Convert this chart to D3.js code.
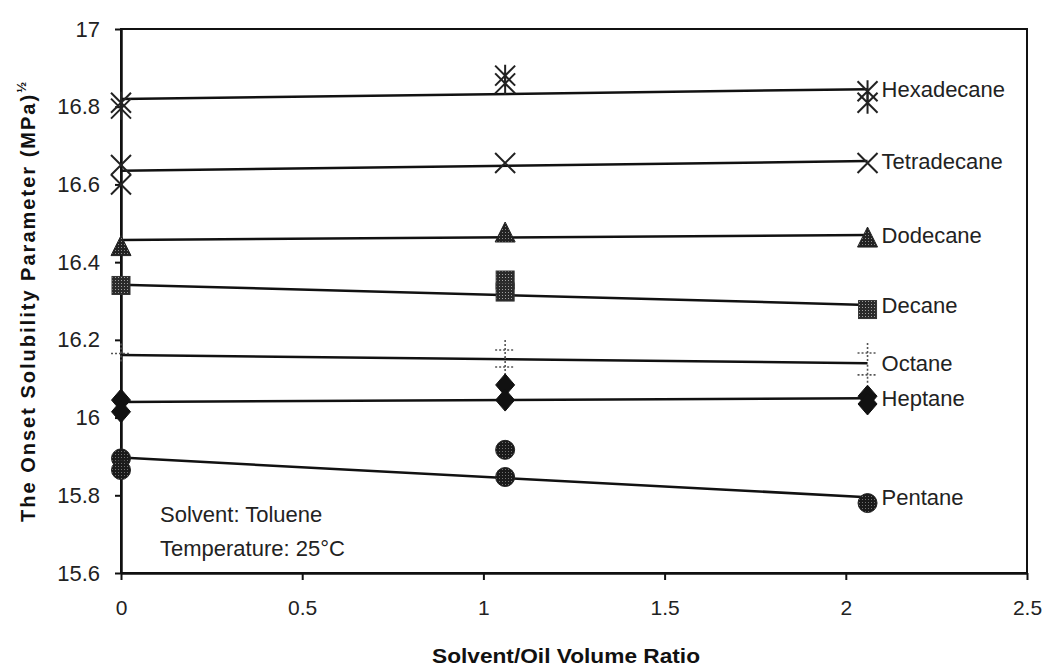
<!DOCTYPE html>
<html>
<head>
<meta charset="utf-8">
<script src="https://cdn.jsdelivr.net/npm/d3@7/dist/d3.min.js"></script>
<style>
  html, body { margin: 0; padding: 0; background: #fff; }
  svg { display: block; font-family: "Liberation Sans", Arial, sans-serif; }
</style>
</head>
<body>
<svg id="chart" width="1045" height="672"></svg>
<script>
// ---------------- data ----------------
const seriesNames = ["Hexadecane", "Tetradecane", "Dodecane", "Decane", "Octane", "Heptane", "Pentane"];
const markerTypes = ["star", "x", "triangle", "square", "plus", "diamond", "circle"];

// observed points [solvent/oil ratio, onset solubility parameter]
const hexadecanePts  = [[0, 16.81], [0, 16.795], [1.06, 16.88], [1.06, 16.86], [2.06, 16.84], [2.06, 16.81]];
const tetradecanePts = [[0, 16.65], [0, 16.60], [1.06, 16.655], [2.06, 16.655]];
const dodecanePts    = [[0, 16.44], [1.06, 16.475], [2.06, 16.462]];
const decanePts      = [[0, 16.34], [1.06, 16.354], [1.06, 16.323], [2.06, 16.278]];
const octanePts      = [[0, 16.165], [1.06, 16.174], [1.06, 16.13], [2.06, 16.166], [2.06, 16.11]];
const heptanePts     = [[0, 16.045], [0, 16.015], [1.06, 16.084], [1.06, 16.045], [2.06, 16.055], [2.06, 16.035]];
const pentanePts     = [[0, 15.895], [0, 15.865], [1.06, 15.917], [1.06, 15.847], [2.06, 15.78]];

// linear trend lines: value at start and end ratio
const trendX     = [0, 2.06];
const trendStart = [16.82, 16.635, 16.457, 16.342, 16.161, 16.04, 15.897];
const trendEnd   = [16.845, 16.66, 16.47, 16.29, 16.14, 16.05, 15.795];

const xTickValues = [0, 0.5, 1, 1.5, 2, 2.5];
const xTickLabels = ["0", "0.5", "1", "1.5", "2", "2.5"];
const yTickValues = [15.6, 15.8, 16, 16.2, 16.4, 16.6, 16.8, 17];
const yTickLabels = ["15.6", "15.8", "16", "16.2", "16.4", "16.6", "16.8", "17"];

const annotationLines = ["Solvent: Toluene", "Temperature: 25°C"];

const allPts = [hexadecanePts, tetradecanePts, dodecanePts, decanePts, octanePts, heptanePts, pentanePts];

// ---------------- layout ----------------
const svg = d3.select("#chart");
const L = 121, R = 1027, T = 29, B = 573;
const x = d3.scaleLinear().domain([0, 2.5]).range([L, R]);
const y = d3.scaleLinear().domain([15.6, 17]).range([B, T]);

// patterns
const defs = svg.append("defs");
function dotPattern(id, bg, dot) {
  const p = defs.append("pattern").attr("id", id).attr("patternUnits", "userSpaceOnUse")
    .attr("width", 3).attr("height", 3);
  p.append("rect").attr("width", 3).attr("height", 3).attr("fill", bg);
  p.append("rect").attr("x", 1).attr("y", 1).attr("width", 1).attr("height", 1).attr("fill", dot);
}
dotPattern("patTri", "#222", "#8a8a8a");
dotPattern("patSq", "#2a2a2a", "#a0a0a0");
dotPattern("patCirc", "#1a1a1a", "#707070");

// frame
svg.append("rect").attr("x", L).attr("y", T).attr("width", R - L).attr("height", B - T)
  .attr("fill", "none").attr("stroke", "#111").attr("stroke-width", 2);

// axes
const xAxis = d3.axisBottom(x).tickValues(xTickValues)
  .tickFormat((d, i) => xTickLabels[i]).tickSizeInner(7).tickSizeOuter(0).tickPadding(20);
const gx = svg.append("g").attr("transform", `translate(0,${B})`).call(xAxis);
gx.select(".domain").attr("stroke", "#111").attr("stroke-width", 2.5);
gx.selectAll(".tick line").attr("stroke", "#111").attr("stroke-width", 2);
gx.selectAll(".tick text").attr("font-size", 21).attr("fill", "#222")
  .attr("font-family", "Liberation Sans, Arial, sans-serif");

const yAxis = d3.axisLeft(y).tickValues(yTickValues)
  .tickFormat((d, i) => yTickLabels[i]).tickSizeInner(6).tickSizeOuter(0).tickPadding(15);
const gy = svg.append("g").attr("transform", `translate(${L},0)`).call(yAxis);
gy.select(".domain").attr("stroke", "#111").attr("stroke-width", 2.5);
gy.selectAll(".tick line").attr("stroke", "#111").attr("stroke-width", 2);
gy.selectAll(".tick text").attr("font-size", 22).attr("fill", "#222")
  .attr("font-family", "Liberation Sans, Arial, sans-serif");

// axis titles
svg.append("text").attr("x", 566).attr("y", 663).attr("text-anchor", "middle")
  .attr("font-size", 20).attr("font-weight", "bold").attr("fill", "#111")
  .attr("textLength", 268).attr("lengthAdjust", "spacingAndGlyphs")
  .text("Solvent/Oil Volume Ratio");

const yt = svg.append("text").attr("transform", "translate(35,302) rotate(-90)")
  .attr("text-anchor", "middle").attr("font-size", 20).attr("font-weight", "bold").attr("fill", "#111")
  .attr("textLength", 440).attr("lengthAdjust", "spacing");
yt.append("tspan").text("The Onset Solubility Parameter (MPa)");
yt.append("tspan").attr("font-size", 13).attr("dy", -9).text("½");

// trend lines
const lineGen = d3.line().x(d => x(d[0])).y(d => y(d[1]));
seriesNames.forEach((name, i) => {
  svg.append("path")
    .attr("d", lineGen([[trendX[0], trendStart[i]], [trendX[1], trendEnd[i]]]))
    .attr("fill", "none").attr("stroke", "#111").attr("stroke-width", 2.5);
});

// markers
function drawMarker(g, type, cx, cy) {
  const s = 10;
  if (type === "star") {
    g.append("path").attr("d", `M${cx - s},${cy - s}L${cx + s},${cy + s}M${cx - s},${cy + s}L${cx + s},${cy - s}M${cx},${cy - s - 1}L${cx},${cy + s + 1}`)
      .attr("stroke", "#222").attr("stroke-width", 2).attr("fill", "none");
  } else if (type === "x") {
    g.append("path").attr("d", `M${cx - s},${cy - s}L${cx + s},${cy + s}M${cx - s},${cy + s}L${cx + s},${cy - s}`)
      .attr("stroke", "#222").attr("stroke-width", 2).attr("fill", "none");
  } else if (type === "triangle") {
    g.append("path").attr("d", `M${cx},${cy - 11}L${cx + 10},${cy + 9}L${cx - 10},${cy + 9}Z`)
      .attr("fill", "url(#patTri)").attr("stroke", "#222").attr("stroke-width", 1);
  } else if (type === "square") {
    g.append("rect").attr("x", cx - 9).attr("y", cy - 9).attr("width", 18).attr("height", 18)
      .attr("fill", "url(#patSq)").attr("stroke", "#333").attr("stroke-width", 1);
  } else if (type === "plus") {
    g.append("path").attr("d", `M${cx - s},${cy}L${cx + s},${cy}M${cx},${cy - s}L${cx},${cy + s}`)
      .attr("stroke", "#555").attr("stroke-width", 1.6).attr("stroke-dasharray", "2,2").attr("fill", "none");
  } else if (type === "diamond") {
    g.append("path").attr("d", `M${cx},${cy - 11}L${cx + 9.5},${cy}L${cx},${cy + 11}L${cx - 9.5},${cy}Z`)
      .attr("fill", "#111").attr("stroke", "#111").attr("stroke-width", 1);
  } else if (type === "circle") {
    g.append("circle").attr("cx", cx).attr("cy", cy).attr("r", 9.5)
      .attr("fill", "url(#patCirc)").attr("stroke", "#222").attr("stroke-width", 1);
  }
}
seriesNames.forEach((name, i) => {
  const g = svg.append("g").attr("class", "series-" + name);
  allPts[i].forEach(p => drawMarker(g, markerTypes[i], x(p[0]), y(p[1])));
});

// series labels
seriesNames.forEach((name, i) => {
  svg.append("text").attr("x", x(trendX[1]) + 14).attr("y", y(trendEnd[i]))
    .attr("dy", "0.35em").attr("font-size", 22).attr("fill", "#222").text(name);
});

// annotation
annotationLines.forEach((t, i) => {
  svg.append("text").attr("x", 160).attr("y", 522 + i * 34)
    .attr("font-size", 22).attr("fill", "#222").text(t);
});
</script>
</body>
</html>
